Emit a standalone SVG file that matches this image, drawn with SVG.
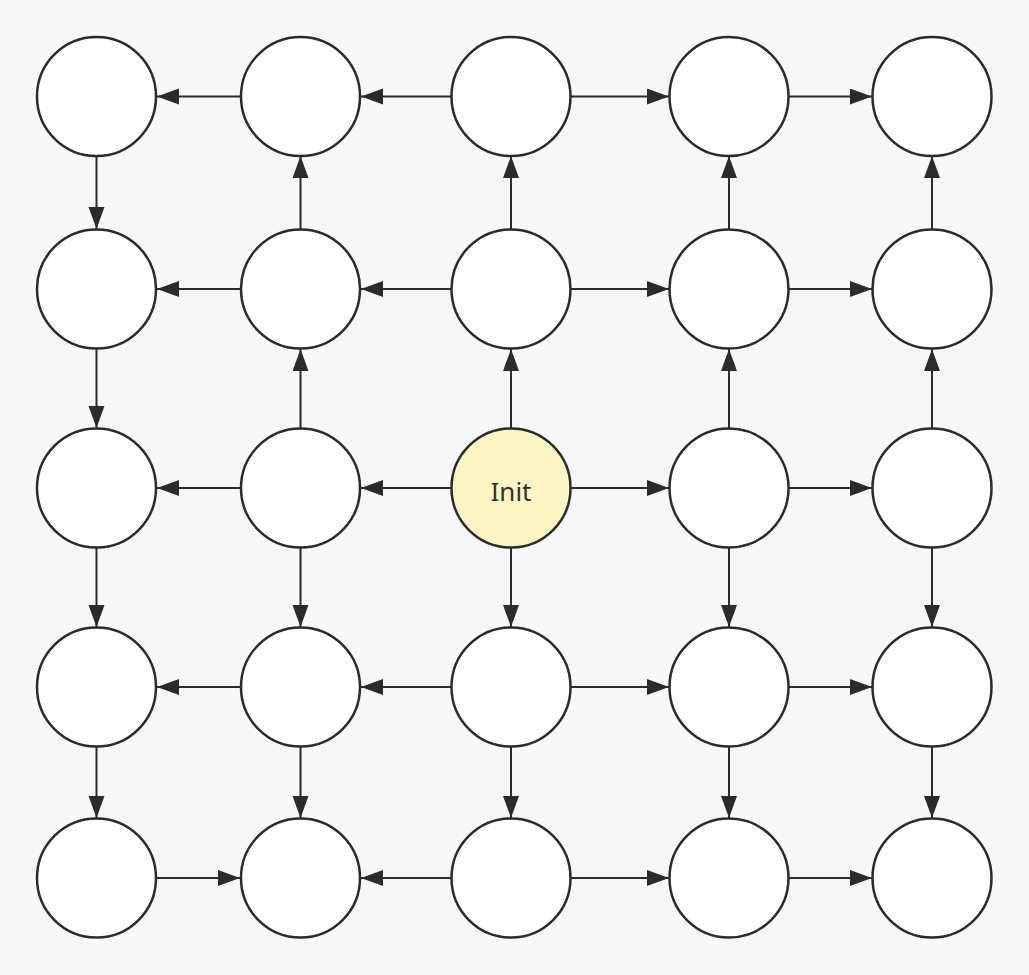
<svg xmlns="http://www.w3.org/2000/svg" width="1029" height="975" viewBox="0 0 1029 975">
<style>
.n{fill:#ffffff;stroke:#2b2b2b;stroke-width:2.5}
.init{fill:#fdf6c4}
.e{stroke:#2b2b2b;stroke-width:2;fill:none;marker-end:url(#ah)}
.t{font-family:"Noto Sans","Liberation Sans",sans-serif;font-size:26px;fill:#333;text-anchor:middle}
</style>
<defs>
<marker id="ah" markerUnits="userSpaceOnUse" markerWidth="24" markerHeight="18" refX="22" refY="8" orient="auto">
<path d="M0,0 L22,8 L0,16 z" fill="#2b2b2b"/>
</marker>
</defs>
<rect width="1029" height="975" fill="#f7f7f7"/>
<g id="connectors">
<line class="e" x1="240" y1="96.5" x2="157" y2="96.5"/>
<line class="e" x1="451" y1="96.5" x2="361" y2="96.5"/>
<line class="e" x1="571" y1="96.5" x2="669" y2="96.5"/>
<line class="e" x1="789" y1="96.5" x2="872" y2="96.5"/>
<line class="e" x1="96.5" y1="156" x2="96.5" y2="229"/>
<line class="e" x1="300.5" y1="229" x2="300.5" y2="156"/>
<line class="e" x1="511" y1="229" x2="511" y2="156"/>
<line class="e" x1="729" y1="229" x2="729" y2="156"/>
<line class="e" x1="932" y1="229" x2="932" y2="156"/>
<line class="e" x1="240" y1="289" x2="157" y2="289"/>
<line class="e" x1="451" y1="289" x2="361" y2="289"/>
<line class="e" x1="571" y1="289" x2="669" y2="289"/>
<line class="e" x1="789" y1="289" x2="872" y2="289"/>
<line class="e" x1="96.5" y1="349" x2="96.5" y2="428"/>
<line class="e" x1="300.5" y1="428" x2="300.5" y2="349"/>
<line class="e" x1="511" y1="428" x2="511" y2="349"/>
<line class="e" x1="729" y1="428" x2="729" y2="349"/>
<line class="e" x1="932" y1="428" x2="932" y2="349"/>
<line class="e" x1="240" y1="488" x2="157" y2="488"/>
<line class="e" x1="451" y1="488" x2="361" y2="488"/>
<line class="e" x1="571" y1="488" x2="669" y2="488"/>
<line class="e" x1="789" y1="488" x2="872" y2="488"/>
<line class="e" x1="96.5" y1="548" x2="96.5" y2="627"/>
<line class="e" x1="300.5" y1="548" x2="300.5" y2="627"/>
<line class="e" x1="511" y1="548" x2="511" y2="627"/>
<line class="e" x1="729" y1="548" x2="729" y2="627"/>
<line class="e" x1="932" y1="548" x2="932" y2="627"/>
<line class="e" x1="240" y1="687" x2="157" y2="687"/>
<line class="e" x1="451" y1="687" x2="361" y2="687"/>
<line class="e" x1="571" y1="687" x2="669" y2="687"/>
<line class="e" x1="789" y1="687" x2="872" y2="687"/>
<line class="e" x1="96.5" y1="747" x2="96.5" y2="818"/>
<line class="e" x1="300.5" y1="747" x2="300.5" y2="818"/>
<line class="e" x1="511" y1="747" x2="511" y2="818"/>
<line class="e" x1="729" y1="747" x2="729" y2="818"/>
<line class="e" x1="932" y1="747" x2="932" y2="818"/>
<line class="e" x1="156" y1="878" x2="240" y2="878"/>
<line class="e" x1="451" y1="878" x2="361" y2="878"/>
<line class="e" x1="571" y1="878" x2="669" y2="878"/>
<line class="e" x1="789" y1="878" x2="872" y2="878"/>
</g>
<g id="n00"><circle class="n" cx="96.5" cy="96.5" r="59.5"/></g>
<g id="n01"><circle class="n" cx="300.5" cy="96.5" r="59.5"/></g>
<g id="n02"><circle class="n" cx="511" cy="96.5" r="59.5"/></g>
<g id="n03"><circle class="n" cx="729" cy="96.5" r="59.5"/></g>
<g id="n04"><circle class="n" cx="932" cy="96.5" r="59.5"/></g>
<g id="n10"><circle class="n" cx="96.5" cy="289" r="59.5"/></g>
<g id="n11"><circle class="n" cx="300.5" cy="289" r="59.5"/></g>
<g id="n12"><circle class="n" cx="511" cy="289" r="59.5"/></g>
<g id="n13"><circle class="n" cx="729" cy="289" r="59.5"/></g>
<g id="n14"><circle class="n" cx="932" cy="289" r="59.5"/></g>
<g id="n20"><circle class="n" cx="96.5" cy="488" r="59.5"/></g>
<g id="n21"><circle class="n" cx="300.5" cy="488" r="59.5"/></g>
<g id="n22"><circle class="n init" cx="511" cy="488" r="59.5"/><text class="t" x="511" y="501">Init</text></g>
<g id="n23"><circle class="n" cx="729" cy="488" r="59.5"/></g>
<g id="n24"><circle class="n" cx="932" cy="488" r="59.5"/></g>
<g id="n30"><circle class="n" cx="96.5" cy="687" r="59.5"/></g>
<g id="n31"><circle class="n" cx="300.5" cy="687" r="59.5"/></g>
<g id="n32"><circle class="n" cx="511" cy="687" r="59.5"/></g>
<g id="n33"><circle class="n" cx="729" cy="687" r="59.5"/></g>
<g id="n34"><circle class="n" cx="932" cy="687" r="59.5"/></g>
<g id="n40"><circle class="n" cx="96.5" cy="878" r="59.5"/></g>
<g id="n41"><circle class="n" cx="300.5" cy="878" r="59.5"/></g>
<g id="n42"><circle class="n" cx="511" cy="878" r="59.5"/></g>
<g id="n43"><circle class="n" cx="729" cy="878" r="59.5"/></g>
<g id="n44"><circle class="n" cx="932" cy="878" r="59.5"/></g>
</svg>
